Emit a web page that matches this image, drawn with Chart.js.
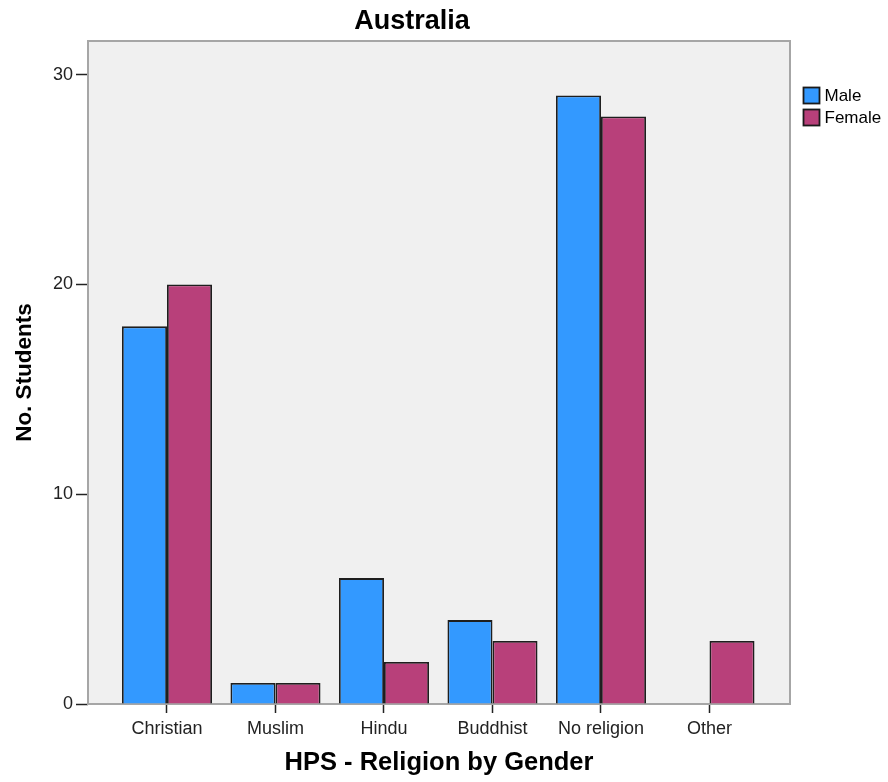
<!DOCTYPE html>
<html>
<head>
<meta charset="utf-8">
<title>Australia</title>
<script src="https://cdn.jsdelivr.net/npm/chart.js@4.4.1/dist/chart.umd.min.js"></script>
<style>
  html, body { margin: 0; padding: 0; background: #fff; }
  #wrap { position: relative; width: 888px; height: 782px; }
</style>
</head>
<body>
<div id="wrap"><canvas id="religionChart" width="888" height="782"></canvas></div>
<script>
// ── Data ────────────────────────────────────────────────
const chartTitle  = "Australia";
const categories  = ["Christian", "Muslim", "Hindu", "Buddhist", "No religion", "Other"];
const maleCounts  = [18, 1, 6, 4, 29, 0];
const femaleCounts = [20, 1, 2, 3, 28, 3];
const yTicks      = [0, 10, 20, 30];
const seriesNames = ["Male", "Female"];

const FONT = "'Liberation Sans', Arial, sans-serif";

// ── Plot frame + background, title, legend ──────────────
const framePlugin = {
  id: "frame",
  beforeDatasetsDraw(chart) {
    const { ctx, chartArea: a } = chart;
    ctx.save();
    ctx.fillStyle = "#f0f0f0";
    ctx.fillRect(a.left, a.top, a.right - a.left, a.bottom - a.top);
    ctx.strokeStyle = "#a6a6a6";
    ctx.lineWidth = 2;
    ctx.strokeRect(a.left, a.top, a.right - a.left, a.bottom - a.top);
    ctx.restore();
  },
  afterDraw(chart) {
    const { ctx, chartArea: a } = chart;
    ctx.save();
    // title
    ctx.fillStyle = "#000";
    ctx.font = "bold 27px " + FONT;
    ctx.textAlign = "center";
    ctx.textBaseline = "alphabetic";
    ctx.fillText(chartTitle, 412, 29);

    // legend
    ctx.font = "17px " + FONT;
    ctx.textAlign = "left";
    ctx.textBaseline = "middle";
    chart.data.datasets.forEach((ds, i) => {
      const x = a.right + 13.5;
      const y = 87.5 + i * 22;
      ctx.fillStyle = ds.backgroundColor;
      ctx.fillRect(x, y, 16, 16);
      ctx.strokeStyle = "#1a1a1a";
      ctx.lineWidth = 1.8;
      ctx.strokeRect(x, y, 16, 16);
      ctx.fillStyle = "#000";
      ctx.fillText(ds.label, x + 21, y + 9);
    });
    ctx.restore();
  }
};

// ── Chart ───────────────────────────────────────────────
const ctx = document.getElementById("religionChart").getContext("2d");

new Chart(ctx, {
  type: "bar",
  data: {
    labels: categories.map((_, i) => i),
    datasets: [
      {
        label: seriesNames[0],
        data: maleCounts,
        backgroundColor: "#3399ff",
        borderColor: "#1e1e1e",
        borderWidth: 1.8,
        borderSkipped: "start"
      },
      {
        label: seriesNames[1],
        data: femaleCounts,
        backgroundColor: "#b8407a",
        borderColor: "#1e1e1e",
        borderWidth: 1.8,
        borderSkipped: "start"
      }
    ]
  },
  options: {
    responsive: false,
    animation: false,
    devicePixelRatio: 1,
    layout: { padding: { top: 41, right: 98, left: 0, bottom: 0 } },
    datasets: { bar: { categoryPercentage: 0.83, barPercentage: 1 } },
    scales: {
      x: {
        type: "linear",
        offset: false,
        min: -0.728,
        max: 5.742,
        afterFit: (s) => { s.height = 78; },
        border: { display: false },
        grid: {
          offset: false,
          drawOnChartArea: false,
          drawTicks: true,
          tickLength: 9,
          tickColor: "#222",
          tickWidth: 1.5
        },
        ticks: {
          stepSize: 1,
          includeBounds: false,
          autoSkip: false,
          maxRotation: 0,
          padding: 5,
          color: "#222",
          font: { family: FONT, size: 18 },
          callback: (v) => categories[v] ?? ""
        },
        title: {
          display: true,
          text: "HPS - Religion by Gender",
          color: "#000",
          font: { family: FONT, size: 25.5, weight: "bold" },
          padding: { top: 0, bottom: 4 }
        }
      },
      y: {
        min: 0,
        max: 31.6,
        afterFit: (s) => { s.width = 88; },
        afterBuildTicks: (s) => { s.ticks = yTicks.map(v => ({ value: v })); },
        border: { display: false },
        grid: {
          drawOnChartArea: false,
          drawTicks: true,
          tickLength: 12,
          tickColor: "#222",
          tickWidth: 1.5
        },
        ticks: {
          padding: 3,
          color: "#222",
          font: { family: FONT, size: 18 }
        },
        title: {
          display: true,
          text: "No. Students",
          color: "#000",
          font: { family: FONT, size: 22.5, weight: "bold" },
          padding: { top: 11, bottom: 0 }
        }
      }
    },
    plugins: {
      legend: { display: false },
      tooltip: { enabled: false }
    }
  },
  plugins: [framePlugin]
});
</script>
</body>
</html>
